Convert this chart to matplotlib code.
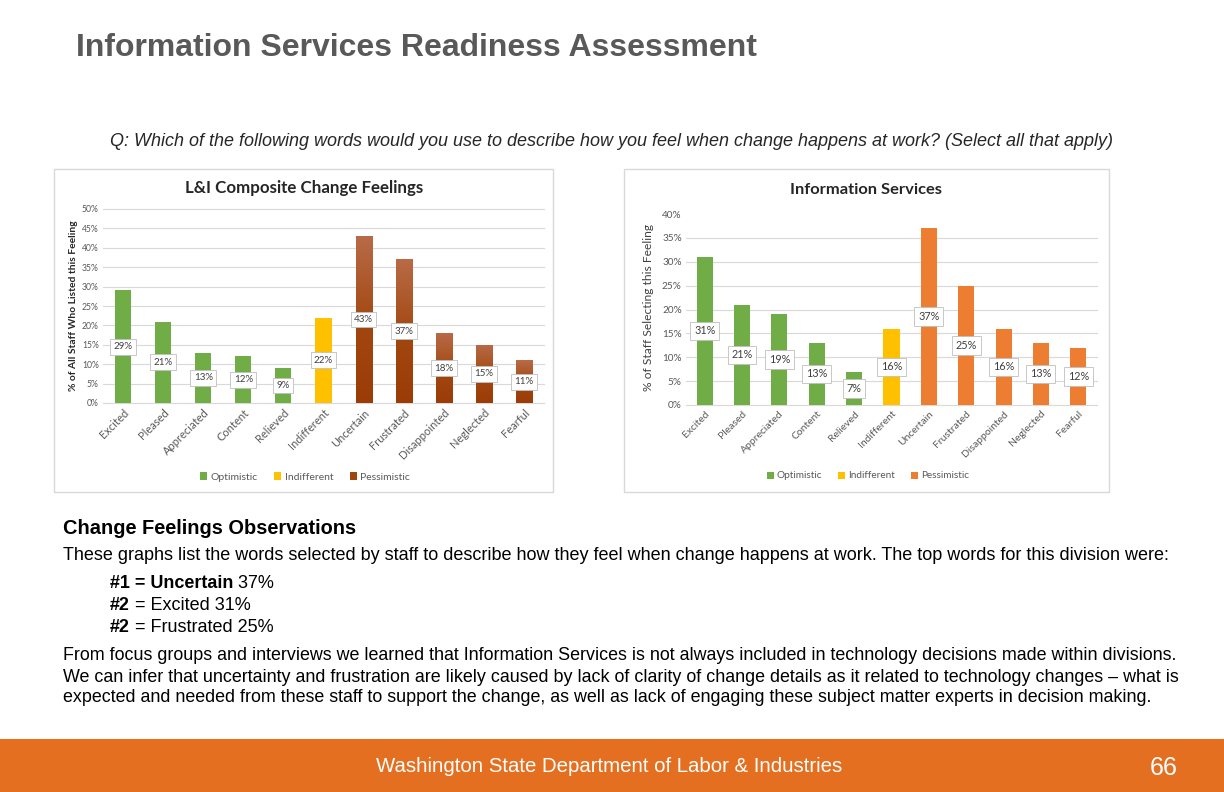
import matplotlib
matplotlib.use("Agg")
import matplotlib.pyplot as plt
import numpy as np
from matplotlib.patches import Rectangle, Patch
from matplotlib.colors import LinearSegmentedColormap

# ---------------- data ----------------
categories = ["Excited", "Pleased", "Appreciated", "Content", "Relieved", "Indifferent",
              "Uncertain", "Frustrated", "Disappointed", "Neglected", "Fearful"]
groups = ["Optimistic"] * 5 + ["Indifferent"] + ["Pessimistic"] * 5
composite_values = [29, 21, 13, 12, 9, 22, 43, 37, 18, 15, 11]
is_values = [31, 21, 19, 13, 7, 16, 37, 25, 16, 13, 12]
composite_ticks = [0, 5, 10, 15, 20, 25, 30, 35, 40, 45, 50]
is_ticks = [0, 5, 10, 15, 20, 25, 30, 35, 40]
legend_labels = ["Optimistic", "Indifferent", "Pessimistic"]

W, H = 1224, 792
fig = plt.figure(figsize=(W / 100, H / 100), dpi=100)
fig.patch.set_facecolor("white")
fig.canvas.draw()
R = fig.canvas.get_renderer()

SLIDE_FONT = ["Liberation Sans", "DejaVu Sans"]
CHART_FONT = ["Lato", "DejaVu Sans"]


def fx(x):
    return x / W


def fy(y):
    return 1 - y / H


def fit_text(x, y, s, target_w, base=12, **kw):
    t = fig.text(fx(x), fy(y), s, fontsize=base, **kw)
    w = t.get_window_extent(renderer=R).width
    t.set_fontsize(base * target_w / w)
    return t


def add_axes_px(x0, y0, x1, y1):
    return fig.add_axes([fx(x0), fy(y1), (x1 - x0) / W, (y1 - y0) / H])


# ---------------- slide texts ----------------
fit_text(76, 48, "Information Services Readiness Assessment", 682, base=20,
         family=SLIDE_FONT, weight="bold", color="#595959", va="center", ha="left")
fit_text(110, 141, "Q: Which of the following words would you use to describe how you feel when change happens at work? (Select all that apply)",
         1003, base=11, family=SLIDE_FONT, style="italic", color="#262626", va="center", ha="left")

fit_text(63, 528, "Change Feelings Observations", 292, base=13, family=SLIDE_FONT,
         weight="bold", color="black", va="center", ha="left")
body = fit_text(63, 556, "These graphs list the words selected by staff to describe how they feel when change happens at work. The top words for this division were:",
                1104, base=12, family=SLIDE_FONT, color="black", va="center", ha="left")
bfs = body.get_fontsize()

top_items = [("#1 = Uncertain", " 37%", 584),
             ("#2", " = Excited 31%", 606),
             ("#2", " = Frustrated 25%", 628)]
for bold_part, rest, yy in top_items:
    t1 = fig.text(fx(110), fy(yy), bold_part, fontsize=bfs, family=SLIDE_FONT,
                  weight="bold", va="center", ha="left")
    bb = t1.get_window_extent(renderer=R)
    fig.text(bb.x1 / W, fy(yy), rest, fontsize=bfs, family=SLIDE_FONT,
             va="center", ha="left")

para = ["From focus groups and interviews we learned that Information Services is not always included in technology decisions made within divisions.",
        "We can infer that uncertainty and frustration are likely caused by lack of clarity of change details as it related to technology changes \u2013 what is",
        "expected and needed from these staff to support the change, as well as lack of engaging these subject matter experts in decision making."]
for line, yy in zip(para, [655, 677, 698]):
    fig.text(fx(63), fy(yy), line, fontsize=bfs * 0.995, family=SLIDE_FONT, va="center", ha="left")

# footer
fig.patches.append(Rectangle((0, 0), 1, 53 / H, transform=fig.transFigure,
                             fc="#E56F20", ec="none", zorder=0))
fit_text(376, 766, "Washington State Department of Labor & Industries", 470, base=14,
         family=SLIDE_FONT, color="white", va="center", ha="left")
fit_text(1150, 768, "66", 28, base=16, family=SLIDE_FONT, color="white", va="center", ha="left")

# chart panels
for (x0, y0, x1, y1) in [(54, 169, 553, 492), (624, 169, 1109, 492)]:
    fig.patches.append(Rectangle((fx(x0), fy(y1)), (x1 - x0) / W, (y1 - y0) / H,
                                 transform=fig.transFigure, fill=False,
                                 ec="#D9D9D9", lw=1.0, zorder=1))

GREEN = "#70AD47"
YELLOW = "#FFC000"
BROWN = "#A0440E"
ORANGE = "#ED7D31"


def draw_chart(ax, values, ticks, pess_color, gradient, bar_w, tick_fs, cat_fs, lab_fs,
               top_grid=True):
    color_map = {"Optimistic": GREEN, "Indifferent": YELLOW, "Pessimistic": pess_color}
    cols = [color_map[g] for g in groups]
    x = np.arange(len(categories))
    bars = ax.bar(x, values, width=bar_w, color=cols, zorder=2)
    ymax = ticks[-1]
    ax.set_xlim(-0.5, len(categories) - 0.5)
    ax.set_ylim(0, ymax)
    if gradient:
        cmap = LinearSegmentedColormap.from_list(
            "brn", [(0, "#9B3C07"), (0.45, "#A2460F"), (1, "#B86B47")])
        grad = np.linspace(0, 1, 256).reshape(-1, 1)
        for b, g in zip(bars, groups):
            if g != "Pessimistic":
                continue
            x0 = b.get_x()
            im = ax.imshow(grad, extent=[x0, x0 + b.get_width(), 0, b.get_height()],
                           origin="lower", cmap=cmap, aspect="auto", zorder=2.5)
            im.set_clip_path(b)
        ax.set_xlim(-0.5, len(categories) - 0.5)
        ax.set_ylim(0, ymax)
        ax.set_aspect("auto")
    for t in ticks:
        if t == ymax and not top_grid:
            continue
        ax.axhline(t, color="#D9D9D9", lw=0.8, zorder=1, clip_on=False)
    ax.set_yticks(ticks)
    ax.set_yticklabels([f"{t}%" for t in ticks], fontsize=tick_fs, color="#595959",
                       family=CHART_FONT)
    ax.set_xticks(x)
    ax.set_xticklabels(categories, rotation=45, ha="right", rotation_mode="anchor",
                       fontsize=cat_fs, color="#595959", family=CHART_FONT)
    ax.tick_params(length=0, pad=3)
    for s in ax.spines.values():
        s.set_visible(False)
    for xi, v in zip(x, values):
        ax.text(xi, v / 2, f"{v}%", ha="center", va="center", fontsize=lab_fs,
                color="#404040", family=CHART_FONT, zorder=4,
                bbox=dict(boxstyle="square,pad=0.35", fc="white", ec="#BFBFBF", lw=0.6))
    return color_map


# ---------- left chart ----------
axL = add_axes_px(103, 209, 544, 403)
cmL = draw_chart(axL, composite_values, composite_ticks, BROWN, True, 0.4, 6.2, 8, 7)
fit_text(304, 188, "L&I Composite Change Feelings", 237, base=12, family=CHART_FONT,
         weight="bold", color="#262626", ha="center", va="center")
tl = fig.text(fx(74), fy(306), "% of All Staff Who Listed this Feeling", fontsize=8,
              rotation=90, family=CHART_FONT, weight="bold", color="#262626",
              ha="center", va="center")
hgt = tl.get_window_extent(renderer=R).height
tl.set_fontsize(8 * 170 / hgt)
hl = [Patch(fc=cmL[g], ec="none") for g in legend_labels]
fig.legend(hl, legend_labels, loc="center", bbox_to_anchor=(fx(305), fy(477)), ncol=3,
           frameon=False, prop={"family": CHART_FONT, "size": 7.5},
           handlelength=0.7, handleheight=0.7, handletextpad=0.3, columnspacing=1.6,
           labelcolor="#595959")

# ---------- right chart ----------
axR = add_axes_px(686, 214, 1097, 405)
cmR = draw_chart(axR, is_values, is_ticks, ORANGE, False, 0.43, 7.2, 7.5, 7.8, top_grid=False)
fit_text(866, 190, "Information Services", 151, base=11, family=CHART_FONT,
         weight="bold", color="#262626", ha="center", va="center")
tr = fig.text(fx(648), fy(308), "% of Staff Selecting this Feeling", fontsize=8,
              rotation=90, family=CHART_FONT, color="#404040", ha="center", va="center")
hgt = tr.get_window_extent(renderer=R).height
tr.set_fontsize(8 * 168 / hgt)
hr = [Patch(fc=cmR[g], ec="none") for g in legend_labels]
fig.legend(hr, legend_labels, loc="center", bbox_to_anchor=(fx(868), fy(476)), ncol=3,
           frameon=False, prop={"family": CHART_FONT, "size": 7.2},
           handlelength=0.7, handleheight=0.7, handletextpad=0.3, columnspacing=1.6,
           labelcolor="#595959")

fig.savefig("out.png", dpi=100, facecolor="white")
